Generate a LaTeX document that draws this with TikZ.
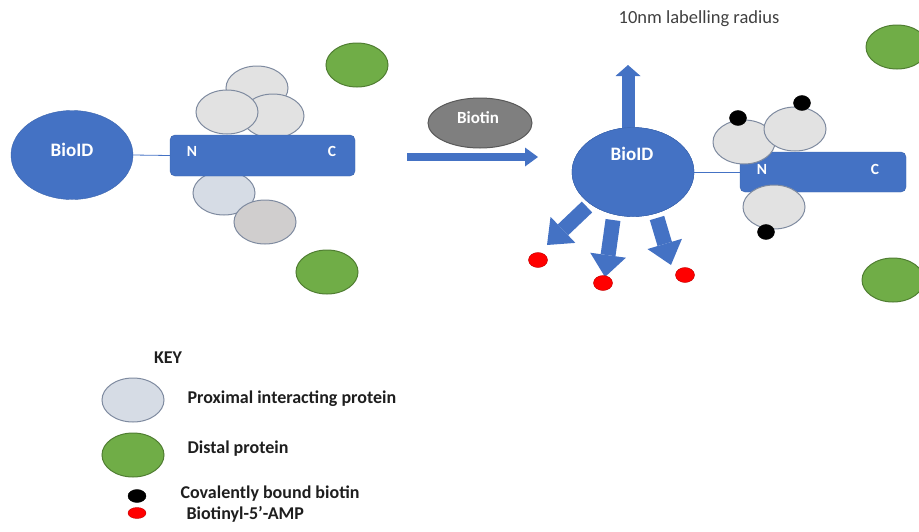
\documentclass[tikz,border=0pt]{standalone}
\usepackage{fontspec}
\setmainfont{Carlito}
\usetikzlibrary{shapes.geometric,arrows.meta}

\definecolor{bioblue}{HTML}{4472C4}
\definecolor{bioedge}{HTML}{3B64AD}
\definecolor{proxfill}{HTML}{E2E2E2}
\definecolor{proxblue}{HTML}{D6DCE5}
\definecolor{proxdark}{HTML}{D0CECE}
\definecolor{proxedge}{HTML}{7F8BA0}
\definecolor{distfill}{HTML}{70AD47}
\definecolor{distedge}{HTML}{507E32}
\definecolor{biotinfill}{HTML}{7F7F7F}
\definecolor{biotinedge}{HTML}{595959}
\definecolor{ampred}{HTML}{FF0000}
\definecolor{ampedge}{HTML}{C00000}
\definecolor{keytext}{HTML}{1E1E1E}

\tikzset{
  blob/.style={ellipse, inner sep=0pt, minimum width=62pt, minimum height=44pt, line width=1pt},
  prox/.style={blob, fill=#1, draw=proxedge},
  distal/.style={blob, fill=distfill, draw=distedge},
  bioid/.style={ellipse, inner sep=0pt, minimum width=122pt, minimum height=89pt, fill=bioblue, draw=bioedge},
  bait/.style={rectangle, rounded corners=5pt, inner sep=0pt, fill=bioblue, draw=bioedge},
  lbl/.style={text=white, font=\fontsize{15.5}{18}\selectfont\bfseries},
  biglbl/.style={text=white, font=\fontsize{19}{22}\selectfont\bfseries},
  keylbl/.style={anchor=west, text=keytext, font=\fontsize{18}{21}\selectfont\bfseries},
  bounddot/.style={ellipse, inner sep=0pt, minimum width=17pt, minimum height=15pt, fill=black, draw=black},
  ampdot/.style={ellipse, inner sep=0pt, minimum width=19pt, minimum height=15pt, fill=ampred, draw=ampedge},
  tether/.style={draw=bioblue, line width=0.8pt},
  fatarrow/.style={draw=bioblue, line width=15pt, -{Triangle[width=36pt,length=22pt,line width=0pt]}},
}

\begin{document}
\begin{tikzpicture}[x=1pt,y=-1pt]
\useasboundingbox (0,0) rectangle (919,531);

% before biotin
\node[bioid] (bioA) at (72,155) {};
\node[prox=proxfill] (pA1) at (257,88) {};
\node[prox=proxfill] (pA2) at (273,116) {};
\node[prox=proxfill] (pA3) at (227,112) {};
\node[prox=proxblue] (pA4) at (224,193) {};
\node[bait, minimum width=185pt, minimum height=41pt] (baitA) at (262.5,155.5) {};
\node[prox=proxdark] (pA5) at (265,222) {};
\draw[tether] (bioA.east) -- (baitA.west);
\node[biglbl] (bioAtxt) at (72,150) {BioID};
\node[lbl] (nA) at (192,151) {N};
\node[lbl] (cA) at (332,151) {C};
\node[distal] (dA1) at (357,65) {};
\node[distal] (dA2) at (327,272) {};

% biotin step
\node[ellipse, inner sep=0pt, minimum width=104pt, minimum height=50pt, fill=biotinfill, draw=biotinedge, line width=1pt] (biotin) at (480,123) {};
\node[lbl, font=\fontsize{17}{20}\selectfont\bfseries] (biotintxt) at (478,118) {Biotin};
\coordinate (stepS) at (407,157);
\coordinate (stepE) at (538,157);
\draw[draw=bioblue, line width=8pt, -{Triangle[width=19pt,length=13pt,line width=0pt]}] (stepS) -- (stepE);

% after biotin
\node[bioid] (bioB) at (633,172) {};
\coordinate (radtip) at (628,65);
\draw[draw=bioblue, line width=13pt, -{Triangle[width=25pt,length=11pt,line width=0pt]}] (628,129) -- (radtip);
\node[bioid] at (bioB) {};
\node[biglbl] (bioBtxt) at (632,154) {BioID};
\node[text=black!75, font=\fontsize{18.5}{22}\selectfont] (radius) at (699,19) {10nm labelling radius};

\coordinate (outL) at (587,207);
\coordinate (outM) at (613,220);
\coordinate (outR) at (657,218);
\coordinate (tipL) at (547,245);
\coordinate (tipM) at (605,277);
\coordinate (tipR) at (671,265);
\draw[fatarrow] (outL) -- (tipL);
\draw[fatarrow] (outM) -- (tipM);
\draw[fatarrow] (outR) -- (tipR);
\node[ampdot] (ampL) at (538,260) {};
\node[ampdot] (ampM) at (603,283) {};
\node[ampdot] (ampR) at (685,275) {};

\node[bait, minimum width=166pt, minimum height=40pt] (baitB) at (823,172) {};
\draw[tether] (bioB.east) -- (baitB.west);
\node[prox=proxfill] (pB1) at (744,142) {};
\node[prox=proxfill] (pB2) at (795,129) {};
\node[prox=proxfill] (pB3) at (774,207) {};
\node[lbl] (nB) at (762,169) {N};
\node[lbl] (cB) at (875,169) {C};
\node[bounddot] (bB1) at (738,118) {};
\node[bounddot] (bB2) at (802,103) {};
\node[bounddot] (bB3) at (766,232) {};
\node[distal] (dB1) at (897,47) {};
\node[distal] (dB2) at (893,280) {};

% key
\node[keylbl, anchor=center] (keyhead) at (168,358) {KEY};
\node[prox=proxblue] (keyprox) at (133,400) {};
\node[keylbl] (keyproxtxt) at (184,399) {Proximal interacting protein};
\node[distal] (keydist) at (133,455) {};
\node[keylbl] (keydisttxt) at (184,449) {Distal protein};
\node[bounddot, minimum width=18pt, minimum height=13pt] (keybound) at (137,496) {};
\node[keylbl] (keyboundtxt) at (177,494) {Covalently bound biotin};
\node[ampdot, minimum width=18pt, minimum height=11pt] (keyamp) at (137,513) {};
\node[keylbl] (keyamptxt) at (183,514) {Biotinyl-5’-AMP};

\end{tikzpicture}
\end{document}
